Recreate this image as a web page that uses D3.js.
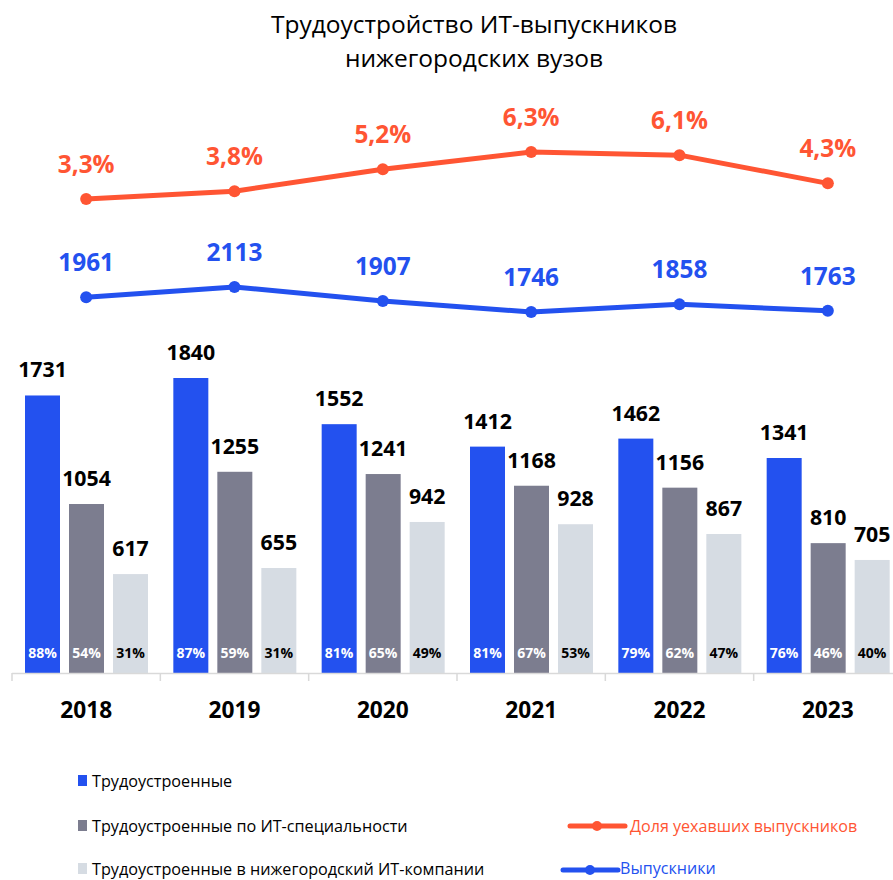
<!DOCTYPE html>
<html><head><meta charset="utf-8">
<script src="https://cdn.jsdelivr.net/npm/d3@7"></script>
<style>body{margin:0;background:#fff}svg{display:block}text{font-family:"Open Sans","Noto Sans",sans-serif}</style>
</head><body>
<svg id="c" width="893" height="880"></svg>
<script>
const years = ["2018","2019","2020","2021","2022","2023"];
const employed = [1731,1840,1552,1412,1462,1341];
const employedIT = [1054,1255,1241,1168,1156,810];
const employedLocal = [617,655,942,928,867,705];
const pctEmployed = ["88%","87%","81%","81%","79%","76%"];
const pctIT = ["54%","59%","65%","67%","62%","46%"];
const pctLocal = ["31%","31%","49%","53%","47%","40%"];
const graduates = [1961,2113,1907,1746,1858,1763];
const leftShare = [3.3,3.8,5.2,6.3,6.1,4.3];
const leftShareLabels = ["3,3%","3,8%","5,2%","6,3%","6,1%","4,3%"];
const seriesNames = ["Трудоустроенные","Трудоустроенные по ИТ-специальности","Трудоустроенные в нижегородский ИТ-компании"];
const lineNames = ["Доля уехавших выпускников","Выпускники"];

const colors = ["#2351EF","#7C7D8F","#D6DCE3"];
const pctColors = ["#fff","#fff","#000"];
const orange = "#FF5533", blue = "#2351EF";

const svg = d3.select("#c");

// Title
svg.append("text").attr("x",474).attr("y",33).attr("text-anchor","middle")
  .attr("font-size",24.5).text("Трудоустройство ИТ-выпускников");
svg.append("text").attr("x",474).attr("y",67).attr("text-anchor","middle")
  .attr("font-size",24.5).text("нижегородских вузов");

const x = d3.scaleBand().domain(years).range([12, 902]);
const base = 673;
const y = d3.scaleLinear().domain([0,1840]).range([base,378]);
const yO = d3.scaleLinear().domain([3.3,6.3]).range([199,152]);
const yB = d3.scaleLinear().domain([1746,2113]).range([312,287]);

const barW = 35, step = 44, off = 13;
const series = [employed, employedIT, employedLocal];
const pcts = [pctEmployed, pctIT, pctLocal];

series.forEach((s,i)=>{
  const g = svg.append("g");
  g.selectAll("rect").data(s).join("rect")
    .attr("x",(d,j)=>x(years[j])+off+i*step).attr("width",barW)
    .attr("y",d=>y(d)).attr("height",d=>base-y(d)).attr("fill",colors[i]);
  g.selectAll("text.v").data(s).join("text").attr("class","v")
    .attr("x",(d,j)=>x(years[j])+off+i*step+barW/2).attr("y",d=>y(d)-18)
    .attr("text-anchor","middle").attr("font-weight","bold").attr("font-size",21.3)
    .attr("fill","#000").text(d=>d);
  g.selectAll("text.p").data(pcts[i]).join("text").attr("class","p")
    .attr("x",(d,j)=>x(years[j])+off+i*step+barW/2).attr("y",658)
    .attr("text-anchor","middle").attr("font-weight","bold").attr("font-size",14)
    .attr("fill",pctColors[i]).text(d=>d);
});

// axis
const ax = svg.append("g");
ax.append("line").attr("x1",12).attr("x2",893).attr("y1",base+0.5).attr("y2",base+0.5).attr("stroke","#D9D9D9").attr("stroke-width",1.5);
ax.selectAll("line.t").data(years.concat(["end"])).join("line").attr("class","t")
  .attr("x1",(d,i)=>12+i*x.step()).attr("x2",(d,i)=>12+i*x.step())
  .attr("y1",base).attr("y2",base+8).attr("stroke","#D9D9D9").attr("stroke-width",1.5);
ax.selectAll("text").data(years).join("text")
  .attr("x",d=>x(d)+x.bandwidth()/2).attr("y",718).attr("text-anchor","middle")
  .attr("font-weight","bold").attr("font-size",22.7).text(d=>d);

// lines
function drawLine(vals, ys, col, labels){
  const cx = (d,i)=>x(years[i])+x.bandwidth()/2;
  svg.append("path").datum(vals).attr("fill","none").attr("stroke",col).attr("stroke-width",5)
    .attr("stroke-linejoin","round").attr("d",d3.line().x(cx).y(d=>ys(d)));
  svg.append("g").selectAll("circle").data(vals).join("circle")
    .attr("cx",cx).attr("cy",d=>ys(d)).attr("r",6).attr("fill",col);
  svg.append("g").selectAll("text").data(vals).join("text")
    .attr("x",cx).attr("y",d=>ys(d)-26).attr("text-anchor","middle")
    .attr("font-weight","bold").attr("font-size",24.4).attr("fill",col)
    .text((d,i)=>labels[i]);
}
drawLine(leftShare, yO, orange, leftShareLabels);
drawLine(graduates, yB, blue, graduates.map(String));

// legend
const lg = svg.append("g");
const rowsY = [781, 826, 869];
seriesNames.forEach((n,i)=>{
  lg.append("rect").attr("x",78).attr("y",rowsY[i]-6).attr("width",9).attr("height",11).attr("fill",colors[i]);
  lg.append("text").attr("x",92).attr("y",rowsY[i]+6).attr("font-size",16.2).attr("fill","#000").text(n);
});
const lineLeg = [[570,826,orange,lineNames[0],630,6],[563,870,blue,lineNames[1],620,4]];
lineLeg.forEach(([lx,ly,c,n,tx,dy])=>{
  lg.append("line").attr("x1",lx).attr("x2",lx+55).attr("y1",ly).attr("y2",ly).attr("stroke",c).attr("stroke-width",5).attr("stroke-linecap","round");
  lg.append("circle").attr("cx",lx+27).attr("cy",ly).attr("r",5).attr("fill",c);
  lg.append("text").attr("x",tx).attr("y",ly+dy).attr("font-size",16.1).attr("fill",c).text(n);
});
</script>
</body></html>
